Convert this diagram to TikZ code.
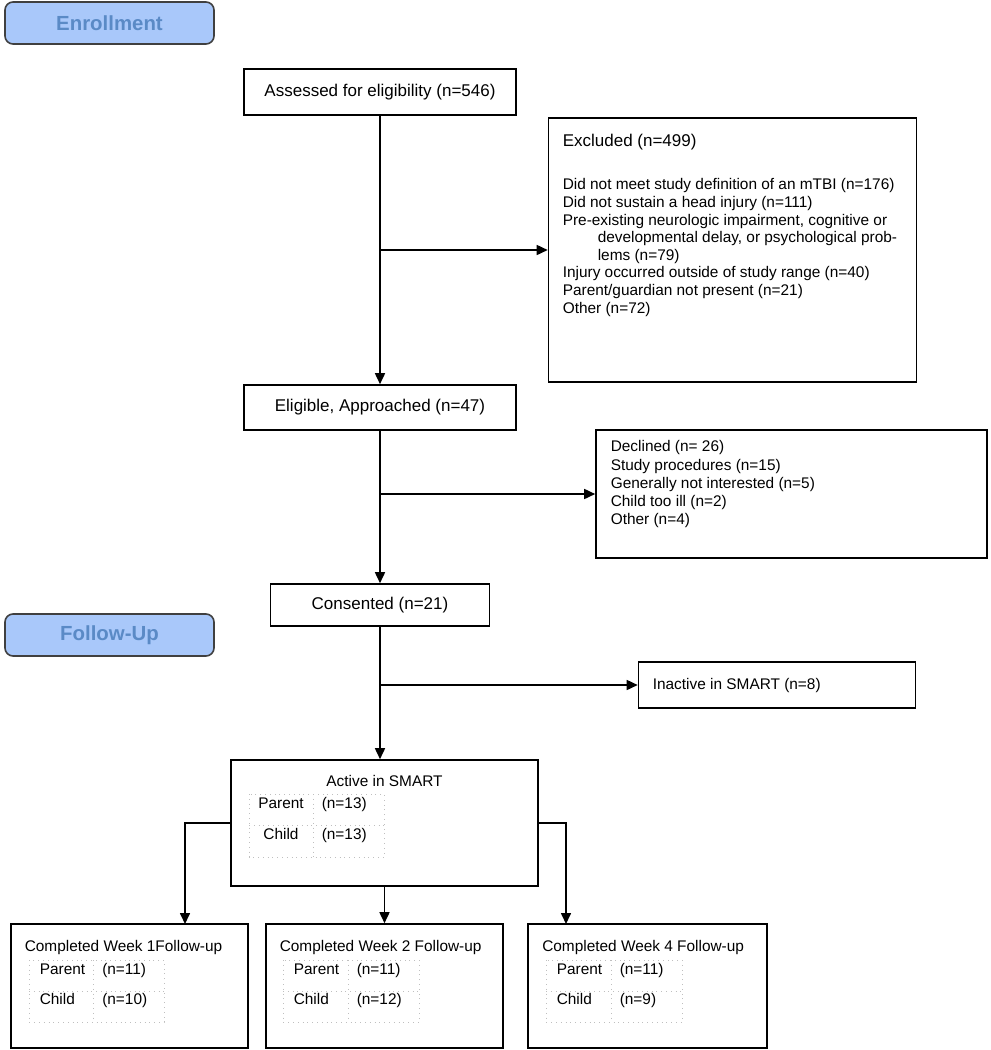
\documentclass[tikz,border=0pt]{standalone}
\usepackage{fontspec}
\setmainfont{Liberation Sans}
\usetikzlibrary{arrows.meta}
\definecolor{phasefill}{HTML}{A9C8FA}
\definecolor{phasetext}{HTML}{5A8AC6}

\begin{document}
\begin{tikzpicture}[x=0.5pt,y=-0.5pt,line width=0.8pt,>={Triangle[length=5.5pt,width=5pt]},
    box/.style={draw,inner sep=0pt,font=\fontsize{8.5}{10}\selectfont},
    phase/.style={draw=black!75,fill=phasefill,rounded corners=4pt,minimum width=104.5pt,minimum height=21pt,text=phasetext,font=\fontsize{10.2}{12}\selectfont\bfseries},
    txt/.style={inner sep=0pt,font=\fontsize{7.7}{8.8}\selectfont},
    cell/.style={draw=black!25,dotted,line width=0.4pt}]
            \useasboundingbox (0,0) rectangle (991,1050);

            \node[phase] (enr) at (109.5,23) {Enrollment};
            \node[phase] (fu) at (109.5,635) {Follow-Up};

            \node[box,minimum width=136pt,minimum height=23pt] (1) at (380,92) {Assessed for eligibility (n=546)};
            \node[box,minimum width=184pt,minimum height=132pt] (2) at (732.5,250) {};
            \node[box,minimum width=136pt,minimum height=22.5pt] (3) at (380,407.5) {Eligible, Approached (n=47)};
            \node[box,minimum width=195.5pt,minimum height=64pt] (4) at (791.5,494) {};
            \node[box,minimum width=109.5pt,minimum height=21pt] (5) at (380,605) {Consented (n=21)};
            \node[box,minimum width=138.5pt,minimum height=23pt] (6) at (777,685) {};
            \node[box,minimum width=153.5pt,minimum height=63pt] (7) at (384.5,823) {};
            \node[box,minimum width=118.5pt,minimum height=62pt] (8) at (129.5,986) {};
            \node[box,minimum width=118.5pt,minimum height=62pt] (9) at (384.5,986) {};
            \node[box,minimum width=119.5pt,minimum height=62pt] (10) at (647.5,986) {};

            % excluded and declined
            \node[txt,anchor=west,font=\fontsize{8.5}{10}\selectfont] (2t) at (562,142) {Excluded (n=499)};
            \node[txt,anchor=north west,align=left] (2l) at (562,178) {Did not meet study definition of an mTBI (n=176)\\
                Did not sustain a head injury (n=111)\\
                Pre-existing neurologic impairment, cognitive or\\
                \hspace*{17.5pt}developmental delay, or psychological prob-\\
                \hspace*{17.5pt}lems (n=79)\\
                Injury occurred outside of study range (n=40)\\
                Parent/guardian not present (n=21)\\
                Other (n=72)};
            \node[txt,anchor=north west,align=left,font=\fontsize{7.7}{9.1}\selectfont] (4l) at (610,440) {Declined (n= 26)\\
                Study procedures (n=15)\\
                Generally not interested (n=5)\\
                Child too ill (n=2)\\
                Other (n=4)};
            \node[txt,anchor=west] (6t) at (652,686) {Inactive in SMART (n=8)};

            % active in SMART
            \node[txt] (7t) at (384.5,781) {Active in SMART};
            \draw[cell] (249,794) rectangle (384,857) (313,794) -- (313,857) (249,825) -- (384,825);
            \node[txt,anchor=base] (7p) at (281,808) {Parent};
            \node[txt,anchor=base] (7c) at (281,839) {Child};
            \node[txt,anchor=base west] (7pn) at (321,808) {(n=13)};
            \node[txt,anchor=base west] (7cn) at (321,839) {(n=13)};

            % week 1
            \node[txt,anchor=west] (8t) at (24,948) {Completed Week 1Follow-up};
            \draw[cell] (29,960) rectangle (164,1022) (93,960) -- (93,1022) (29,991) -- (164,991);
            \node[txt,anchor=base west] (8p) at (39,974) {Parent};
            \node[txt,anchor=base west] (8c) at (39,1004) {Child};
            \node[txt,anchor=base west] (8pn) at (101.5,974) {(n=11)};
            \node[txt,anchor=base west] (8cn) at (101.5,1004) {(n=10)};

            % week 2
            \node[txt,anchor=west] (9t) at (279,948) {Completed Week 2 Follow-up};
            \draw[cell] (283,960) rectangle (419,1022) (348,960) -- (348,1022) (283,991) -- (419,991);
            \node[txt,anchor=base west] (9p) at (293,974) {Parent};
            \node[txt,anchor=base west] (9c) at (293,1004) {Child};
            \node[txt,anchor=base west] (9pn) at (356,974) {(n=11)};
            \node[txt,anchor=base west] (9cn) at (356,1004) {(n=12)};

            % week 4
            \node[txt,anchor=west] (10t) at (541.5,948) {Completed Week 4 Follow-up};
            \draw[cell] (546,960) rectangle (682,1022) (611,960) -- (611,1022) (546,991) -- (682,991);
            \node[txt,anchor=base west] (10p) at (556,974) {Parent};
            \node[txt,anchor=base west] (10c) at (556,1004) {Child};
            \node[txt,anchor=base west] (10pn) at (619,974) {(n=11)};
            \node[txt,anchor=base west] (10cn) at (619,1004) {(n=9)};

            \coordinate (b1) at (1.south |- 2.west);
            \coordinate (b2) at (3.south |- 4.west);
            \coordinate (b3) at (5.south |- 6.west);
            \coordinate (c1) at (185,924);
            \coordinate (c2) at (566,924);

            \path[->]
                (1) edge (3)
                (3) edge (5)
                (5.south) edge (5.south |- 7.north)
                (b1) edge (2)
                (b2) edge (4)
                (b3) edge (6)
                (7) edge (9)
                ;
            \draw[->] (7.west) -| (c1);
            \draw[->] (7.east) -| (c2);
        \end{tikzpicture}
\end{document}
